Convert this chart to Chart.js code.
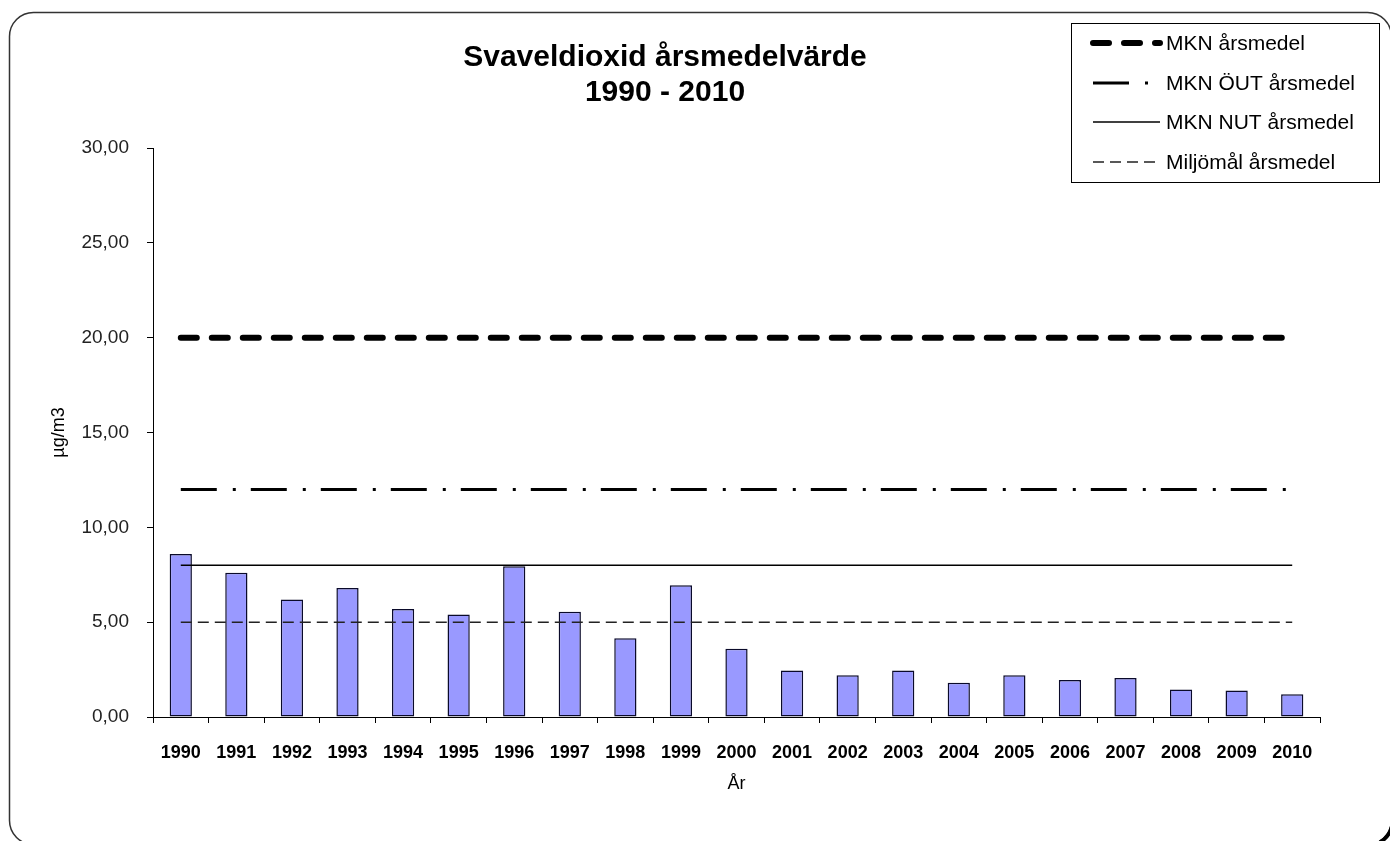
<!DOCTYPE html>
<html lang="sv">
<head>
  <meta charset="UTF-8">
  <title>Svaveldioxid årsmedelvärde</title>
  <style>
    html, body { margin: 0; padding: 0; background: #fff; overflow: hidden; }
    canvas { display: block; }
  </style>
</head>
<body>
<canvas id="so2Chart" width="1390" height="841"></canvas>

<script src="https://cdn.jsdelivr.net/npm/chart.js"></script>
<script>
  // Data
  const years = ['1990', '1991', '1992', '1993', '1994', '1995', '1996', '1997', '1998', '1999', '2000',
                 '2001', '2002', '2003', '2004', '2005', '2006', '2007', '2008', '2009', '2010'];
  const so2Values = [8.6, 7.6, 6.2, 6.8, 5.7, 5.4, 7.95, 5.55, 4.15, 6.95, 3.6,
                     2.45, 2.2, 2.45, 1.8, 2.2, 1.95, 2.05, 1.45, 1.4, 1.2];
  const limitNames = ['MKN årsmedel', 'MKN ÖUT årsmedel', 'MKN NUT årsmedel', 'Miljömål årsmedel'];
  const limitValues = [20, 12, 8, 5];
  const yTickLabels = ['0,00', '5,00', '10,00', '15,00', '20,00', '25,00', '30,00'];
  const titleLines = ['Svaveldioxid årsmedelvärde', '1990 - 2010'];

  const FONT = "'Liberation Sans', Arial, sans-serif";

  // line styles for the limit lines
  const limitStyles = [
    { borderWidth: 6, borderDash: [16, 15], borderCapStyle: 'round', borderColor: '#000' },
    { borderWidth: 3, borderDash: [36, 16, 3, 15], borderCapStyle: 'butt', borderColor: '#000' },
    { borderWidth: 1.5, borderDash: [], borderCapStyle: 'butt', borderColor: '#000' },
    { borderWidth: 1.5, borderDash: [11, 6], borderCapStyle: 'butt', borderColor: '#222' }
  ];

  const limitDatasets = limitNames.map((name, i) => Object.assign({
    type: 'line',
    label: name,
    data: [{ x: years[0], y: limitValues[i] }, { x: years[years.length - 1], y: limitValues[i] }],
    pointRadius: 0,
    fill: false,
    order: 0
  }, limitStyles[i]));

  // rounded frame round the whole picture
  const framePlugin = {
    id: 'frame',
    beforeDraw(chart) {
      const ctx = chart.ctx;
      ctx.save();
      ctx.fillStyle = '#fff';
      ctx.fillRect(0, 0, chart.width, chart.height);
      ctx.beginPath();
      ctx.roundRect(9.5, 12.5, 1382, 832, 24);
      ctx.strokeStyle = '#333';
      ctx.lineWidth = 1.5;
      ctx.stroke();
      // shadow at the lower right corner
      ctx.beginPath();
      ctx.arc(1367.5, 820.5, 25, 0, Math.PI / 3);
      ctx.strokeStyle = '#000';
      ctx.lineWidth = 4;
      ctx.stroke();
      ctx.restore();
    }
  };

  // two line title, centred left of the legend
  const titlePlugin = {
    id: 'customTitle',
    afterDraw(chart) {
      const ctx = chart.ctx;
      ctx.save();
      ctx.fillStyle = '#000';
      ctx.font = 'bold 30px ' + FONT;
      ctx.textAlign = 'center';
      ctx.textBaseline = 'alphabetic';
      const baselines = [66, 101];
      titleLines.forEach((line, i) => {
        ctx.fillText(line, 665, baselines[i]);
      });
      ctx.restore();
    }
  };

  // legend box top right
  const legendPlugin = {
    id: 'customLegend',
    afterDraw(chart) {
      const ctx = chart.ctx;
      ctx.save();
      ctx.fillStyle = '#fff';
      ctx.fillRect(1071.5, 23.5, 308, 159);
      ctx.strokeStyle = '#000';
      ctx.lineWidth = 1;
      ctx.strokeRect(1071.5, 23.5, 308, 159);
      const rows = [43, 83, 122, 162];
      limitDatasets.forEach((ds, i) => {
        const y = rows[i];
        ctx.beginPath();
        ctx.setLineDash(ds.borderDash);
        ctx.lineCap = ds.borderCapStyle;
        ctx.lineWidth = ds.borderWidth;
        ctx.strokeStyle = ds.borderColor;
        ctx.moveTo(1093, y);
        ctx.lineTo(1160, y);
        ctx.stroke();
        ctx.setLineDash([]);
        ctx.fillStyle = '#000';
        ctx.font = '21px ' + FONT;
        ctx.textAlign = 'left';
        ctx.textBaseline = 'middle';
        ctx.fillText(ds.label, 1166, y + 1);
      });
      ctx.restore();
    }
  };

  const ctx = document.getElementById('so2Chart').getContext('2d');
  new Chart(ctx, {
    type: 'bar',
    data: {
      labels: years,
      datasets: [
        ...limitDatasets,
        {
          type: 'bar',
          label: 'Svaveldioxid',
          data: so2Values,
          backgroundColor: '#9999ff',
          borderColor: '#0a0a2a',
          borderWidth: 1.5,
          borderSkipped: false,
          categoryPercentage: 1,
          barPercentage: 0.4,
          order: 10
        }
      ]
    },
    options: {
      responsive: false,
      animation: false,
      layout: { padding: { left: 48, right: 70, top: 148, bottom: 44 } },
      plugins: {
        legend: { display: false },
        title: { display: false },
        tooltip: { enabled: false }
      },
      scales: {
        x: {
          grid: { display: true, drawOnChartArea: false, drawTicks: true, tickLength: 6, color: '#000', offset: true },
          border: { display: true, color: '#000', width: 1 },
          ticks: { color: '#000', font: { family: FONT, size: 18, weight: 'bold' }, padding: 19, maxRotation: 0, autoSkip: false },
          title: { display: true, text: 'År', color: '#000', font: { family: FONT, size: 18 }, padding: { top: 0, bottom: 2 } },
          afterFit(scale) { scale.height = 80; }
        },
        y: {
          min: 0,
          max: 30,
          grid: { display: true, drawOnChartArea: false, drawTicks: true, tickLength: 6, color: '#000' },
          border: { display: true, color: '#000', width: 1 },
          ticks: {
            stepSize: 5,
            color: '#222',
            font: { family: FONT, size: 19 },
            padding: 18,
            callback: (value, index) => yTickLabels[index]
          },
          title: { display: true, text: 'µg/m3', color: '#000', font: { family: FONT, size: 18 }, padding: { top: 0, bottom: 0 } },
          afterFit(scale) { scale.width = 105; }
        }
      }
    },
    plugins: [framePlugin, titlePlugin, legendPlugin]
  });
</script>
</body>
</html>
